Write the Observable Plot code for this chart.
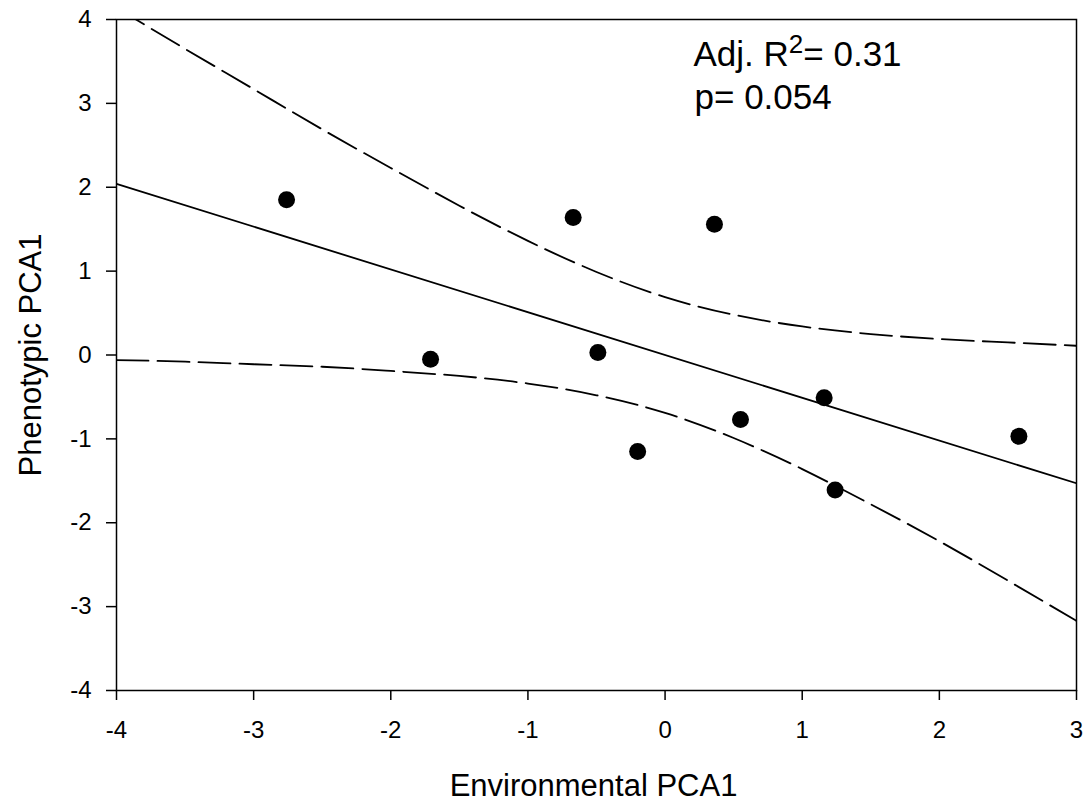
<!DOCTYPE html>
<html>
<head>
<meta charset="utf-8">
<script src="https://cdn.jsdelivr.net/npm/d3@7"></script>
<script src="https://cdn.jsdelivr.net/npm/@observablehq/plot@0.6"></script>
<style>
  body { margin: 0; background: #fff; }
</style>
</head>
<body>
<div id="chart"></div>
<script>
// Data
const envPCA1   = [-2.76, -1.71, -0.67, -0.49, -0.20, 0.36, 0.55, 1.16, 1.24, 2.58];
const phenoPCA1 = [ 1.85, -0.05,  1.64,  0.03, -1.15, 1.56, -0.77, -0.51, -1.61, -0.97];

// Regression line end points
const fitX = [-4, 3];
const fitY = [2.04, -1.53];

// 95% confidence band (dashed curves)
const bandX     = [-4, -3.5, -3, -2.5, -2, -1.5, -1, -0.5, 0, 0.5, 1, 1.5, 2, 2.5, 3];
const bandUpper = [4.14, 3.65, 3.17, 2.69, 2.23, 1.78, 1.36, 0.99, 0.69, 0.48, 0.34, 0.25, 0.19, 0.15, 0.11];
const bandLower = [-0.06, -0.08, -0.11, -0.14, -0.19, -0.25, -0.34, -0.48, -0.69, -0.99, -1.36, -1.78, -2.22, -2.69, -3.17];

const xTicks = [-4, -3, -2, -1, 0, 1, 2, 3];
const yTicks = [-4, -3, -2, -1, 0, 1, 2, 3, 4];

const xTitle = "Environmental PCA1";
const yTitle = "Phenotypic PCA1";
const statR2 = ["Adj. R", "2", "= 0.31"];
const statP  = "p= 0.054";

// Build tables
const points = envPCA1.map((x, i) => ({x, y: phenoPCA1[i]}));
const fit = fitX.map((x, i) => ({x, y: fitY[i]}));
const upper = bandX.map((x, i) => ({x, y: bandUpper[i]}));
const lower = bandX.map((x, i) => ({x, y: bandLower[i]}));

const fmt = d => String(d);

const svg = Plot.plot({
  width: 1089,
  height: 806,
  marginLeft: 116,
  marginRight: 13,
  marginTop: 19,
  marginBottom: 116,
  style: {
    fontFamily: "'Liberation Sans', Arial, sans-serif",
    fontSize: "24px",
    color: "black",
    background: "white"
  },
  x: {domain: [-4, 3]},
  y: {domain: [-4, 4]},
  marks: [
    Plot.axisX({ticks: xTicks, tickSize: 10, tickPadding: 20, tickFormat: fmt, label: null, strokeWidth: 1.5, fontSize: 24}),
    Plot.axisY({ticks: yTicks, tickSize: 10, tickPadding: 15, tickFormat: fmt, label: null, strokeWidth: 1.5, fontSize: 24}),
    Plot.line(upper, {x: "x", y: "y", curve: "natural", stroke: "black", strokeWidth: 1.8, strokeDasharray: "32,9", clip: true}),
    Plot.line(lower, {x: "x", y: "y", curve: "natural", stroke: "black", strokeWidth: 1.8, strokeDasharray: "32,9", clip: true}),
    Plot.line(fit, {x: "x", y: "y", stroke: "black", strokeWidth: 1.8, clip: true}),
    Plot.dot(points, {x: "x", y: "y", r: 8.5, fill: "black", stroke: null}),
    Plot.frame({stroke: "black", strokeWidth: 1.5}),
    Plot.text([xTitle], {text: d => d, frameAnchor: "bottom", dx: -3, dy: 105, textAnchor: "middle", lineAnchor: "bottom", fontSize: 31}),
    Plot.text([yTitle], {text: d => d, frameAnchor: "left", dx: -76, rotate: -90, textAnchor: "middle", lineAnchor: "bottom", fontSize: 31}),
    Plot.text([statR2.join("")], {text: d => d, frameAnchor: "top-left", dx: 577, dy: 46, textAnchor: "start", lineAnchor: "bottom", fontSize: 35}),
    Plot.text([statP], {text: d => d, frameAnchor: "top-left", dx: 578, dy: 89, textAnchor: "start", lineAnchor: "bottom", fontSize: 35})
  ]
});

// Superscript for R^2
d3.select(svg).selectAll("text")
  .filter(function () { return this.textContent === statR2.join(""); })
  .each(function () {
    const t = d3.select(this);
    t.text(null);
    t.append("tspan").text(statR2[0]);
    t.append("tspan").attr("font-size", "26px").attr("dy", -13).text(statR2[1]);
    t.append("tspan").attr("dy", 13).text(statR2[2]);
  });

document.getElementById("chart").appendChild(svg);
</script>
</body>
</html>
